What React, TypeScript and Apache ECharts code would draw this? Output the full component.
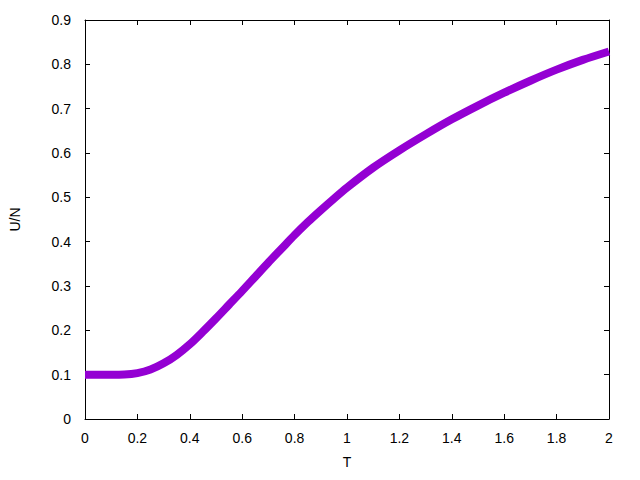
import React, { useEffect, useRef } from "react";
import * as echarts from "echarts";

const temperatures = [0, 0.05, 0.1, 0.15, 0.2, 0.25, 0.3, 0.35, 0.4, 0.45, 0.5, 0.55, 0.6, 0.65, 0.7, 0.75, 0.8, 0.85, 0.9, 0.95, 1.0, 1.1, 1.2, 1.3, 1.4, 1.5, 1.6, 1.7, 1.8, 1.9, 2.0];
const energyPerN = [0.1, 0.1, 0.1, 0.1004, 0.1035, 0.1115, 0.1255, 0.1445, 0.1685, 0.197, 0.227, 0.258, 0.289, 0.321, 0.353, 0.384, 0.415, 0.444, 0.471, 0.497, 0.522, 0.567, 0.606, 0.642, 0.676, 0.707, 0.736, 0.763, 0.788, 0.81, 0.829];
const xName = "T";
const yName = "U/N";

export default function App() {
  const ref = useRef<HTMLDivElement>(null);
  useEffect(() => {
    if (!ref.current) return;
    const chart = echarts.init(ref.current, undefined, { renderer: "svg" });
    const font = "'Liberation Sans', Arial, sans-serif";
    const axisLine = { show: true, onZero: false, lineStyle: { color: "#000", width: 1 } };
    const tick = { show: true, inside: true, length: 5, lineStyle: { color: "#000", width: 1 } };
    const label = { color: "#000", fontSize: 14, fontFamily: font };
    chart.setOption({
      animation: false,
      backgroundColor: "#fff",
      grid: { left: 84, right: 31, top: 20, bottom: 61, containLabel: false },
      xAxis: [
        {
          type: "value", min: 0, max: 2, interval: 0.2, position: "bottom",
          name: xName, nameLocation: "middle", nameGap: 36,
          nameTextStyle: { color: "#000", fontSize: 14, fontFamily: font },
          axisLine, axisTick: tick, axisLabel: { ...label, margin: 12 }, splitLine: { show: false },
        },
        {
          type: "value", min: 0, max: 2, interval: 0.2, position: "top",
          axisLine, axisTick: tick, axisLabel: { show: false }, splitLine: { show: false },
        },
      ],
      yAxis: [
        {
          type: "value", min: 0, max: 0.9, interval: 0.1, position: "left",
          name: yName, nameLocation: "middle", nameGap: 63,
          nameTextStyle: { color: "#000", fontSize: 14, fontFamily: font },
          axisLine, axisTick: tick, axisLabel: { ...label, margin: 14 }, splitLine: { show: false },
        },
        {
          type: "value", min: 0, max: 0.9, interval: 0.1, position: "right",
          axisLine, axisTick: tick, axisLabel: { show: false }, splitLine: { show: false },
        },
      ],
      series: [
        {
          type: "line",
          data: temperatures.map((t, i) => [t, energyPerN[i]]),
          smooth: 0.3,
          showSymbol: false,
          lineStyle: { color: "#9400D3", width: 8 },
          xAxisIndex: 0,
          yAxisIndex: 0,
        },
      ],
    });
    return () => chart.dispose();
  }, []);
  return <div ref={ref} style={{ width: 640, height: 480, position: "absolute", left: 0, top: 0 }} />;
}
